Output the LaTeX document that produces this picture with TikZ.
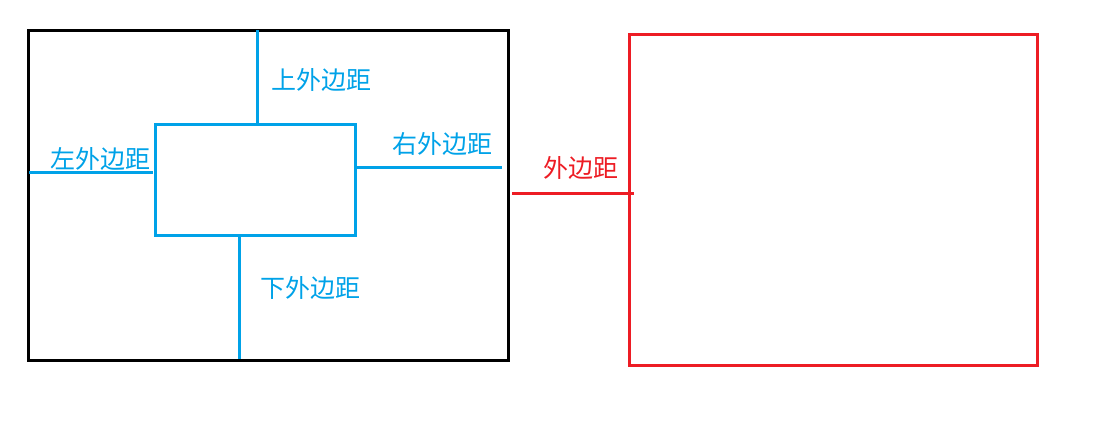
\documentclass[tikz,border=0pt]{standalone}
\usepackage{fontspec}
\newfontfamily\cjk{Noto Sans CJK SC}
\definecolor{mblue}{HTML}{00A2E8}
\definecolor{mred}{HTML}{ED1C24}
\tikzset{
  outerbox/.style={draw=black,line width=3pt},
  innerbox/.style={draw=mblue,line width=3pt},
  redbox/.style={draw=mred,line width=3pt},
  bline/.style={draw=mblue,line width=3pt},
  rline/.style={draw=mred,line width=3pt},
  blab/.style={text=mblue,font=\cjk\fontsize{25}{25}\selectfont,inner sep=0pt},
  rlab/.style={text=mred,font=\cjk\fontsize{25}{25}\selectfont,inner sep=0pt},
}
\begin{document}
\begin{tikzpicture}[x=1pt,y=-1pt]
\useasboundingbox (0,0) rectangle (1108,426);
% outer black box
\coordinate (o1) at (28,30);
\coordinate (o2) at (508,360);
\draw[outerbox] (o1) rectangle (o2);
% inner blue box
\coordinate (i1) at (155,124);
\coordinate (i2) at (355,235);
\draw[innerbox] (i1) rectangle (i2);
% margins lines
\coordinate (t1) at (257,30);
\coordinate (t2) at (257,124);
\draw[bline] (t1) -- (t2);
\coordinate (l1) at (29,172);
\coordinate (l2) at (153,172);
\draw[bline] (l1) -- (l2);
\coordinate (r1) at (355,167);
\coordinate (r2) at (502,167);
\draw[bline] (r1) -- (r2);
\coordinate (b1) at (239,235);
\coordinate (b2) at (239,359);
\draw[bline] (b1) -- (b2);
% labels
\node[blab] (lt) at (321,80) {上外边距};
\node[blab] (lr) at (442,144) {右外边距};
\node[blab] (ll) at (100,159) {左外边距};
\node[blab] (lb) at (310,288) {下外边距};
% red box
\coordinate (q1) at (629,34);
\coordinate (q2) at (1037,365);
\draw[redbox] (q1) rectangle (q2);
\coordinate (m1) at (512,193);
\coordinate (m2) at (634,193);
\draw[rline] (m1) -- (m2);
\node[rlab] (lm) at (581,168) {外边距};
\end{tikzpicture}
\end{document}
